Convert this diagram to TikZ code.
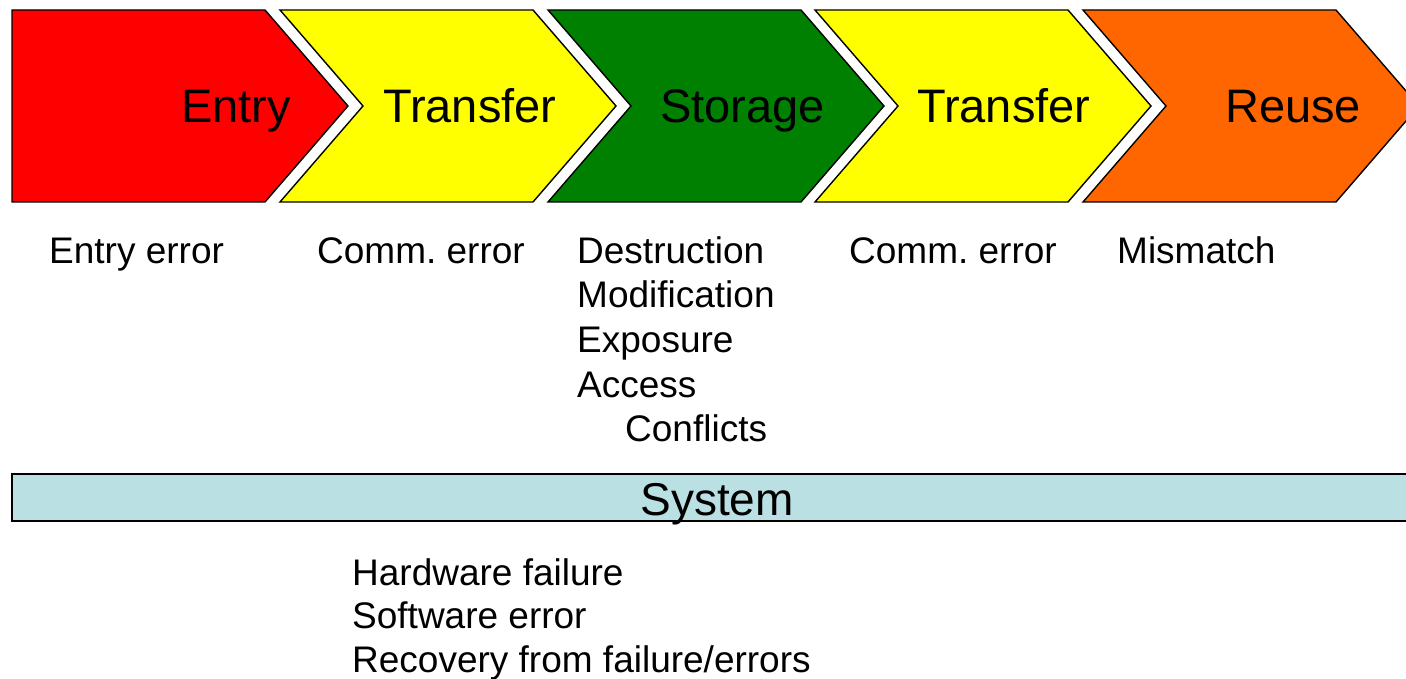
\documentclass[tikz,border=0pt]{standalone}
\usepackage{fontspec}
\setmainfont{Liberation Sans}
\frenchspacing
\definecolor{stepred}{HTML}{FF0000}
\definecolor{stepyellow}{HTML}{FFFF00}
\definecolor{stepgreen}{HTML}{008000}
\definecolor{steporange}{HTML}{FF6600}
\definecolor{sysblue}{HTML}{BBE0E3}
\tikzset{
  chev/.style={draw=black, line width=1.4pt, line join=miter},
  stagelabel/.style={anchor=base west, inner sep=0pt, font=\fontsize{47}{52}\selectfont},
  risklist/.style={anchor=base west, inner sep=0pt, align=left, font=\fontsize{37}{44.7}\selectfont},
  syslist/.style={anchor=base west, inner sep=0pt, align=left, font=\fontsize{37}{43.5}\selectfont},
  sysbar/.style={draw=black, line width=2pt, fill=sysblue},
}
\begin{document}
\begin{tikzpicture}[x=1pt, y=-1pt]
  \useasboundingbox (0,0) rectangle (1406,679);
  \clip (0,0) rectangle (1406,679);

  % first stage: flat left edge
  \path[chev, fill=stepred] (12,10) -- (265,10) -- (348,106) -- (265,202) -- (12,202) -- cycle;
  % following stages: notched chevrons
  \foreach \s/\c in {280/stepyellow, 548/stepgreen, 815/stepyellow, 1083/steporange}{
    \path[chev, fill=\c] (\s,10) -- ({\s+253},10) -- ({\s+336},106) -- ({\s+253},202)
      -- (\s,202) -- ({\s+83},106) -- cycle;
  }

  % stage names
  \node[stagelabel] (entry)     at (181,123) {Entry};
  \node[stagelabel] (transfer1) at (383,123) {Transfer};
  \node[stagelabel] (storage)   at (660,123) {Storage};
  \node[stagelabel] (transfer2) at (917,123) {Transfer};
  \node[stagelabel] (reuse)     at (1225,123) {Reuse};

  % risks per stage (multi-line nodes are placed by their last baseline)
  \node[risklist] (r1) at (49,263)   {Entry error};
  \node[risklist] (r2) at (317,263)  {Comm. error};
  \node[risklist] (r3) at (577,441.8) {Destruction\\Modification\\Exposure\\Access\\\hspace*{48pt}Conflicts};
  \node[risklist] (r4) at (849,263)  {Comm. error};
  \node[risklist] (r5) at (1117,263) {Mismatch};

  % system-wide bar
  \path[sysbar] (12,474) rectangle (1420,521);
  \node[anchor=base, inner sep=0pt, font=\fontsize{46}{52}\selectfont] (system) at (717,515) {System};

  % system risks
  \node[syslist] (r6) at (352,672) {Hardware failure\\Software error\\Recovery from failure/errors};
\end{tikzpicture}
\end{document}
